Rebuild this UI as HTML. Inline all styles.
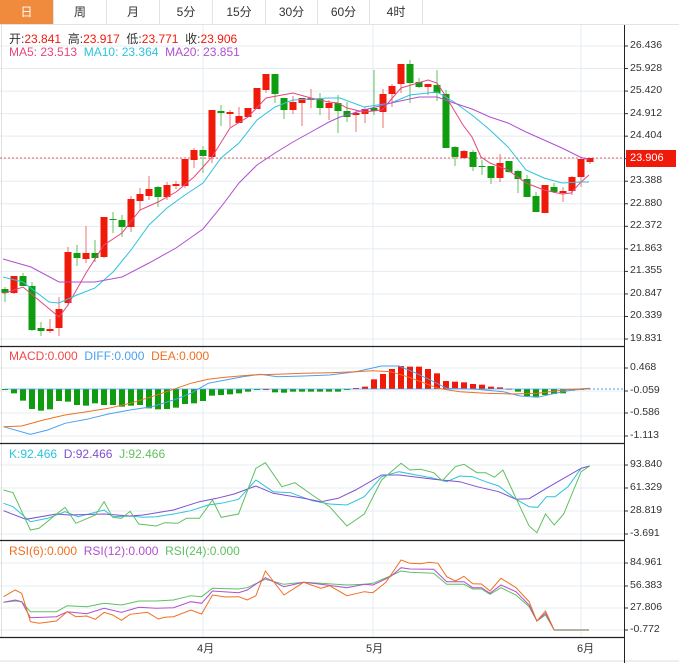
<!DOCTYPE html>
<html><head><meta charset="utf-8">
<style>
body{margin:0;width:679px;height:663px;background:#fff;overflow:hidden;font-family:"Liberation Sans","Noto Sans CJK SC",sans-serif;}
#wrap{position:relative;width:679px;height:663px;}
.tab{position:absolute;top:0;height:24px;line-height:24px;text-align:center;font-size:12px;color:#333;border-right:1px solid #e3e3e3;box-sizing:border-box;}
.lg{position:absolute;font-size:12px;white-space:nowrap;}
.ax{position:absolute;left:630px;font-size:10.5px;color:#333;}
svg{position:absolute;left:0;top:0;}
</style></head><body><div id="wrap">
<svg id="s" width="679" height="663"></svg>
<div class="tab" style="left:0;width:54px;background:#f08a3c;color:#fff;">日</div>
<div class="tab" style="left:54px;width:53px;">周</div>
<div class="tab" style="left:107px;width:53px;">月</div>
<div class="tab" style="left:160px;width:53px;">5分</div>
<div class="tab" style="left:213px;width:53px;">15分</div>
<div class="tab" style="left:266px;width:52px;">30分</div>
<div class="tab" style="left:318px;width:52px;">60分</div>
<div class="tab" style="left:370px;width:53px;">4时</div>
<div class="lg" style="left:9px;top:30px;color:#333">开:<span style="color:#f01a0a">23.841</span>&nbsp; 高:<span style="color:#f01a0a">23.917</span>&nbsp; 低:<span style="color:#f01a0a">23.771</span>&nbsp; 收:<span style="color:#f01a0a">23.906</span></div>
<div class="lg" style="left:9px;top:45px;"><span style="color:#e8457f">MA5: 23.513</span>&nbsp;&nbsp;<span style="color:#2dc3dc">MA10: 23.364</span>&nbsp;&nbsp;<span style="color:#b04fd0">MA20: 23.851</span></div>
<div class="lg" style="left:9px;top:349px;"><span style="color:#f04848">MACD:0.000</span>&nbsp;&nbsp;<span style="color:#4aa0f0">DIFF:0.000</span>&nbsp;&nbsp;<span style="color:#f07020">DEA:0.000</span></div>
<div class="lg" style="left:9px;top:447px;"><span style="color:#2dc3dc">K:92.466</span>&nbsp;&nbsp;<span style="color:#8050d0">D:92.466</span>&nbsp;&nbsp;<span style="color:#60c060">J:92.466</span></div>
<div class="lg" style="left:9px;top:544px;"><span style="color:#f07020">RSI(6):0.000</span>&nbsp;&nbsp;<span style="color:#b04fd0">RSI(12):0.000</span>&nbsp;&nbsp;<span style="color:#60c060">RSI(24):0.000</span></div>
<div class="ax" style="top:39px">26.436</div>
<div class="ax" style="top:62px">25.928</div>
<div class="ax" style="top:84px">25.420</div>
<div class="ax" style="top:107px">24.912</div>
<div class="ax" style="top:129px">24.404</div>
<div class="ax" style="top:174px">23.388</div>
<div class="ax" style="top:197px">22.880</div>
<div class="ax" style="top:219px">22.372</div>
<div class="ax" style="top:242px">21.863</div>
<div class="ax" style="top:264px">21.355</div>
<div class="ax" style="top:287px">20.847</div>
<div class="ax" style="top:309px">20.339</div>
<div class="ax" style="top:332px">19.831</div>
<div style="position:absolute;left:626px;top:150px;width:50px;height:17px;background:#f01a0a;color:#fff;font-size:11px;line-height:17px;padding-left:4px;box-sizing:border-box;">23.906</div>
<div class="ax" style="top:361px">0.468</div>
<div class="ax" style="top:384px">-0.059</div>
<div class="ax" style="top:406px">-0.586</div>
<div class="ax" style="top:429px">-1.113</div>
<div class="ax" style="top:458px">93.840</div>
<div class="ax" style="top:481px">61.329</div>
<div class="ax" style="top:504px">28.819</div>
<div class="ax" style="top:527px">-3.691</div>
<div class="ax" style="top:556px">84.961</div>
<div class="ax" style="top:579px">56.383</div>
<div class="ax" style="top:601px">27.806</div>
<div class="ax" style="top:623px">-0.772</div>
<div class="lg" style="left:197px;top:640px;font-size:11px;color:#333">4月</div>
<div class="lg" style="left:366px;top:640px;font-size:11px;color:#333">5月</div>
<div class="lg" style="left:577px;top:640px;font-size:11px;color:#333">6月</div>
<script>
var s=document.getElementById('s'),h='';
function L(x1,y1,x2,y2,c,w,d){h+='<line x1="'+x1+'" y1="'+y1+'" x2="'+x2+'" y2="'+y2+'" stroke="'+c+'" stroke-width="'+(w||1)+'"'+(d?' stroke-dasharray="'+d+'"':'')+'/>';}
function R(x,y,w,hh,c){h+='<rect x="'+x+'" y="'+y+'" width="'+w+'" height="'+Math.max(hh,1)+'" fill="'+c+'"/>';}
function P(pts,c,fx,fy,oy){var a=[];for(var i=0;i<pts.length;i+=2)a.push((fx?pts[i]/fx:pts[i]).toFixed(1)+','+(fy?oy+pts[i+1]/fy:pts[i+1]).toFixed(1));h+='<polyline points="'+a.join(' ')+'" fill="none" stroke="'+c+'" stroke-width="1"/>';}
var G='#e4ecf2';
// tab bar
L(0,24.5,679,24.5,'#e3e3e3');
// grids
for(var k=0;k<14;k++){var y=46+k*22.54;L(0,y,624,y,G);L(624,y,628,y,'#333');}
[368,391,413,436,465,488,511,534,563,586,608,630].forEach(function(y){L(0,y,624,y,G);L(624,y,628,y,'#333');});
[203,373,581].forEach(function(x){L(x,25,x,637,G);});
L(1.5,25,1.5,637,'#e0e0e0');
// panel separators
[346.5,443.5,540.5,637.5].forEach(function(y){L(0,y,624,y,'#222',1.3);});
L(0,661,679,661,'#ddd');
L(624.5,25,624.5,663,'#222');
L(0,158,624,158,'#f06060',1,'2,2');
// candles
var C=[[0,'g',289,293,287,302],[1,'r',276,293,276,294],[2,'g',276,286,273,286],[3,'g',286,330,282,331],[4,'g',328,331,322,336],[5,'r',329,331,319,333],[6,'r',309,328,297,336],[7,'r',252,303,247,306],[8,'g',253,258,245,266],[9,'r',253,259,226,263],[10,'g',253,258,240,262],[11,'r',217,257,217,258],[12,'g',219,220,212,233],[13,'g',220,227,215,237],[14,'r',199,227,196,232],[15,'r',194,201,188,210],[16,'r',189,196,176,200],[17,'g',187,197,186,207],[18,'r',185,197,182,200],[19,'r',184,186,181,189],[20,'r',159,186,159,188],[21,'r',150,160,148,168],[22,'g',150,156,146,173],[23,'r',110,157,110,163],[24,'g',111,113,105,126],[25,'r',112,114,110,127],[26,'r',116,123,107,123],[27,'r',108,117,108,117],[28,'r',88,109,88,109],[29,'r',74,90,74,93],[30,'g',74,94,74,103],[31,'g',98,110,98,119],[32,'r',102,110,96,114],[33,'r',98,103,98,126],[34,'r',98,100,89,108],[35,'g',99,108,93,115],[36,'r',103,108,100,120],[37,'g',103,111,95,133],[38,'g',111,117,102,122],[39,'r',113,115,110,132],[40,'r',109,114,107,123],[41,'g',108,111,70,115],[42,'r',94,112,89,128],[43,'r',86,94,84,107],[44,'r',64,84,64,93],[45,'g',64,83,60,103],[46,'g',82,87,78,88],[47,'r',84,87,84,95],[48,'g',85,93,70,101],[49,'g',94,148,90,148],[50,'g',147,157,146,166],[51,'r',151,158,150,159],[52,'g',152,167,150,171],[53,'g',166,167,160,175],[54,'g',166,178,166,184],[55,'r',163,178,154,182],[56,'g',161,172,161,173],[57,'g',171,179,170,193],[58,'g',179,197,175,197],[59,'g',196,212,192,212],[60,'r',185,213,185,213],[61,'g',187,192,183,193],[62,'r',191,193,187,202],[63,'r',177,191,176,195],[64,'r',159,177,159,187],[65,'r',158,162,158,164]];
C.forEach(function(c){var x=5+9*c[0],col=c[1]=='r'?'#f01a0a':'#0f9d0f',wc=c[1]=='r'?'#f07070':'#60c060';L(x,c[4],x,c[5],wc);R(x-3.5,c[2],7,c[3]-c[2],col);});
// MA lines
P([3,293,5,293,23,287,59,317,68,305,86,273,104,245,122,233,140,210,158,202,176,192,194,177,212,157,230,128,248,117,266,98,293,93,311,98,329,102,338,103,347,108,364,112,382,110,401,88,428,80,437,83,445,95,463,125,472,137,481,157,490,163,508,170,526,183,544,190,562,194,571,193,580,183,589,175],'#e8457f');
P([3,277,23,282,49,302,59,303,77,295,95,288,113,272,131,250,149,225,167,208,185,195,203,183,221,158,239,143,257,120,275,107,293,100,311,99,329,98,340,98,364,107,391,103,410,95,437,92,454,102,472,115,490,130,508,147,526,170,544,178,562,183,580,182,589,182],'#2dc3dc');
P([3,259,31,267,59,282,95,282,122,277,149,263,176,248,203,229,221,207,239,183,257,165,275,153,293,142,311,132,329,122,340,117,364,110,391,103,419,97,437,97,454,103,472,109,490,117,508,123,526,132,544,140,562,148,580,157,589,160],'#b04fd0');
// MACD bars
var M=[148,160,182,207,212,208,183,185,195,197,190,195,195,200,197,195,205,208,207,203,192,190,183,167,165,163,160,155,148,147,157,158,155,155,155,155,155,155,150,144,140,118,102,87,78,80,80,87,100,123,125,127,132,134,140,142,146,155,168,170,165,162,160,152,148];
var Z=389;
M.forEach(function(v,i){var x=5+9*i,y=340+v/3;if(y>Z)R(x-3,Z,6,y-Z,'#0f9d0f');else R(x-3,y,6,Z-y,'#f01a0a');});
L(5,Z,589,Z,'#4aa0f0',0.8);
L(589,Z,624,Z,'#4aa0f0',1,'2,2');
var F=2.306;
P([8,260,70,283,110,270,150,250,200,238,250,222,300,210,350,200,400,180,440,160,480,130,520,120,560,110,600,103,640,110,700,108,760,105,820,95,880,78,920,78,960,100,1000,125,1030,145,1100,148,1160,155,1200,168,1240,172,1280,160,1320,150,1360,146],'#4aa0f0',F,3,340);
P([8,260,50,258,100,240,150,225,200,215,250,205,300,190,350,170,400,148,440,130,480,118,520,112,580,105,640,103,700,100,760,98,820,95,860,92,900,95,940,110,980,130,1010,145,1060,155,1120,160,1180,162,1240,160,1300,150,1360,145],'#f07020',F,3,340);
// KDJ
P([8,190,30,200,70,245,110,235,150,215,180,230,240,210,260,230,300,228,330,232,360,230,400,222,440,212,480,195,510,190,550,178,590,120,630,155,670,158,720,182,760,192,800,195,840,170,880,110,920,95,960,105,1000,115,1030,125,1060,108,1090,110,1120,125,1150,138,1190,178,1220,200,1240,202,1260,170,1280,170,1310,140,1340,85,1360,78],'#2dc3dc',F,3,440);
P([8,212,60,238,130,222,160,225,240,222,300,228,330,225,400,210,460,185,500,175,540,162,590,138,630,160,700,175,740,185,780,175,820,150,880,105,920,105,1000,118,1060,125,1100,140,1150,155,1190,178,1220,176,1260,145,1300,115,1340,85,1360,78],'#8050d0',F,3,440);
P([8,150,30,158,70,270,90,265,150,202,175,250,220,225,240,185,260,232,280,235,300,214,320,252,360,258,380,248,410,250,430,235,460,235,490,180,510,232,550,222,590,85,612,68,650,140,680,128,720,165,760,200,800,258,840,222,880,120,925,70,945,90,970,88,1000,98,1020,122,1050,80,1070,73,1100,98,1120,98,1140,112,1160,90,1190,175,1220,258,1238,278,1258,222,1278,255,1300,222,1340,95,1360,78],'#60c060',F,3,440);
// RSI
P([8,202,35,198,50,200,70,230,130,230,155,212,200,215,240,205,280,210,320,198,360,198,400,195,440,182,465,185,490,160,550,162,570,158,612,133,655,148,700,142,740,145,800,150,840,148,860,145,900,123,925,108,945,112,1000,115,1030,148,1070,148,1090,162,1110,162,1130,178,1155,158,1190,180,1220,215,1238,258,1258,240,1278,285],'#60c060',F,3,535);
P([8,202,35,195,50,200,70,248,130,245,155,230,200,236,240,220,280,232,320,217,360,220,400,218,440,200,465,205,490,168,550,173,570,165,612,128,655,155,700,142,740,148,800,158,840,148,860,150,900,125,925,98,945,102,1000,103,1030,140,1070,140,1090,158,1110,158,1130,175,1155,150,1190,170,1220,210,1238,258,1258,235,1278,285],'#b04fd0',F,3,535);
P([8,185,35,165,50,175,70,260,90,265,130,258,155,230,175,245,200,243,220,253,240,232,260,240,280,256,300,238,340,232,365,252,380,247,400,245,440,225,465,237,490,180,520,186,550,185,570,195,590,182,612,108,655,180,700,142,740,160,760,152,800,182,840,170,860,173,890,142,925,75,945,85,970,86,990,82,1010,85,1030,125,1050,138,1070,124,1090,146,1110,147,1130,168,1155,130,1190,158,1220,200,1238,258,1258,228,1278,285],'#f07020',F,3,535);
L(554,630,589,630,'#b8b0a0',2);
s.innerHTML=h;
</script>
</div></body></html>
